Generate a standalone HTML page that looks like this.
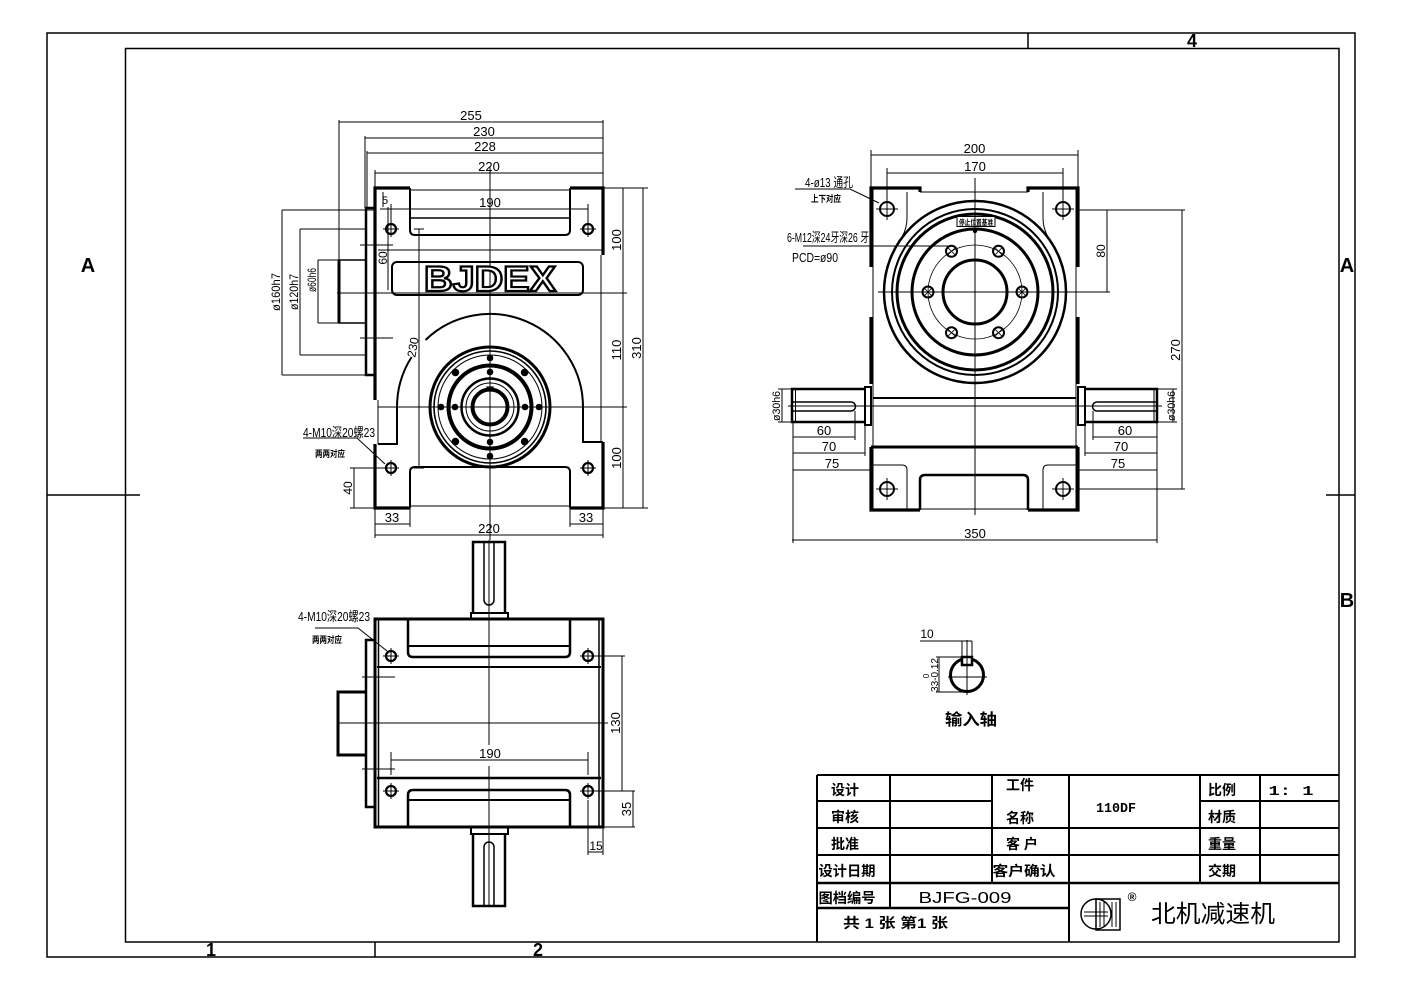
<!DOCTYPE html>
<html><head><meta charset="utf-8">
<style>
html,body{margin:0;padding:0;background:#fff;}
svg{display:block}
text{font-family:"Liberation Sans","Noto Sans CJK SC",sans-serif;fill:#000;stroke:none}
.b{font-weight:bold}
</style></head><body>
<svg width="1403" height="992" viewBox="0 0 1403 992" xmlns="http://www.w3.org/2000/svg">
<rect width="1403" height="992" fill="#fff"/>
<defs>
<g id="hole"><circle r="5" fill="none" stroke="#000" stroke-width="2.2"/><path d="M-8 0H8M0 -8V8" stroke="#000" stroke-width="1"/></g>
<g id="hole7"><circle r="7" fill="none" stroke="#000" stroke-width="2"/><path d="M-11 0H11M0 -11V11" stroke="#000" stroke-width="1"/></g>
<g id="hole6"><circle r="5.5" fill="none" stroke="#000" stroke-width="2"/><path d="M-4 -4L4 4M-4 4L4 -4" stroke="#000" stroke-width="0.8"/></g>
</defs>

<!-- BORDER -->
<g fill="none" stroke="#000" stroke-width="1.5">
<rect x="47" y="33" width="1308" height="924"/>
<rect x="125.5" y="48.5" width="1213.5" height="893.5"/>
<path d="M1028 33V48 M375 942V957 M47 495H140 M1326 495H1355"/>
</g>
<text x="1192" y="47" font-size="18" class="b" text-anchor="middle">4</text>
<text x="211" y="956" font-size="18" class="b" text-anchor="middle">1</text>
<text x="538" y="956" font-size="18" class="b" text-anchor="middle">2</text>
<text x="88" y="272" font-size="20" class="b" text-anchor="middle">A</text>
<text x="1347" y="272" font-size="20" class="b" text-anchor="middle">A</text>
<text x="1347" y="607" font-size="20" class="b" text-anchor="middle">B</text>

<!-- FRONT VIEW -->
<g fill="none" stroke="#000" stroke-width="1">
<path d="M375 400V188H410 M570 188H603V255 M603 442V508H570 M410 508H375V444" stroke-width="3.2"/>
<path d="M378 400V444 M601 255V442 M410 190H570 M378 250H603 M410 506H570"/>
<path d="M410 188V230Q410 235 415 235H565Q570 235 570 230V188" stroke-width="2"/>
<path d="M410 218H570" stroke-width="1.5"/>
<path d="M410 508V472Q410 467 415 467H565Q570 467 570 472V508" stroke-width="2"/>
<path d="M375 208H366V375H375" stroke-width="2.5"/>
<path d="M366 260H339V323H366" stroke-width="1.5"/>
<path d="M339 260V323" stroke-width="3"/>
<path d="M360 245H393 M360 338H393"/>
<rect x="392" y="262" width="191" height="33" rx="5" stroke-width="2"/>
<path d="M378 444H397V407A93 93 0 0 1 411.6 357 M425.5 340A93 93 0 0 1 583 407V442H603" stroke-width="2"/>
<circle cx="490" cy="407" r="60" stroke-width="3"/>
<circle cx="490" cy="407" r="56" stroke-width="1.6"/>
<circle cx="490" cy="407" r="52" stroke-width="1"/>
<circle cx="490" cy="407" r="41.5" stroke-width="4"/>
<circle cx="490" cy="407" r="28.5" stroke-width="2.5"/>
<circle cx="490" cy="407" r="24" stroke-width="1"/>
<circle cx="490" cy="407" r="17.5" stroke-width="4"/>
<rect x="487" y="387" width="6" height="4" stroke-width="1.2"/>
<path d="M490 167V540 M337 293H627 M378 407H627"/>
<!-- dims -->
<path d="M339 260V120 M365 208V136 M367 208V151 M375 188V170 M603 188V120"/>
<path d="M339 122H603 M365 138H603 M367 153H603 M375 173H603"/>
<path d="M603 188H648 M603 508H648 M623 188V508 M643 188V508"/>
<path d="M282 210H375 M282 375H375 M282 210V375 M300 229H366 M300 355H366 M300 229V355 M318 260H339 M318 323H339 M318 260V323"/>
<path d="M380 209H588 M391 204V229 M588 204V229 M383 192V207 M388 207V290"/>
<path d="M419 229V468 M414 229H424 M414 468H424"/>
<path d="M303 438H357L385 464"/>
<path d="M354 468V508 M350 468H391 M350 508H375"/>
<path d="M375 508V538 M603 508V538 M410 508V527 M570 508V527 M375 524H410 M570 524H603 M375 535H603"/>
</g>
<g fill="#000">
<circle cx="539" cy="407" r="3.3"/><circle cx="524.6" cy="441.6" r="3.8"/><circle cx="490" cy="456" r="3.3"/><circle cx="455.4" cy="441.6" r="3.8"/>
<circle cx="441" cy="407" r="3.3"/><circle cx="455.4" cy="372.4" r="3.8"/><circle cx="490" cy="358" r="3.3"/><circle cx="524.6" cy="372.4" r="3.8"/>
<circle cx="525" cy="407" r="3.3"/><circle cx="490" cy="442" r="3.3"/><circle cx="455" cy="407" r="3.3"/><circle cx="490" cy="372" r="3.3"/>
</g>
<use href="#hole" x="391" y="229"/><use href="#hole" x="588" y="229"/><use href="#hole" x="391" y="468"/><use href="#hole" x="588" y="468"/>
<text x="490" y="291" font-size="35" class="b" text-anchor="middle" textLength="132" lengthAdjust="spacingAndGlyphs" style="fill:#fff;stroke:#000;stroke-width:2.2">BJDEX</text>
<g font-size="13" text-anchor="middle">
<text x="471" y="120">255</text>
<text x="484" y="136">230</text>
<text x="485" y="151">228</text>
<text x="489" y="171">220</text>
<text x="490" y="207">190</text>
<text x="385" y="204" font-size="11">5</text>
<text x="392" y="522">33</text>
<text x="586" y="522">33</text>
<text x="489" y="533">220</text>
<text transform="translate(621,240) rotate(-90)">100</text>
<text transform="translate(621,350) rotate(-90)">110</text>
<text transform="translate(621,458) rotate(-90)">100</text>
<text transform="translate(641,348) rotate(-90)">310</text>
<text transform="translate(280,292) rotate(-90)" font-size="12" textLength="38" lengthAdjust="spacingAndGlyphs">ø160h7</text>
<text transform="translate(298,292) rotate(-90)" font-size="12" textLength="36" lengthAdjust="spacingAndGlyphs">ø120h7</text>
<text transform="translate(316,280) rotate(-90)" font-size="12" textLength="24" lengthAdjust="spacingAndGlyphs">ø60h6</text>
<text transform="translate(387,258) rotate(-90)" font-size="12">60</text>
<text transform="translate(417,348) rotate(-80)" font-size="12">230</text>
<text transform="translate(352,488) rotate(-90)" font-size="12">40</text>
</g>
<text x="303" y="437" font-size="13" textLength="72" lengthAdjust="spacingAndGlyphs">4-M10深20螺23</text>
<text x="315" y="457" font-size="9" class="b" textLength="30" lengthAdjust="spacingAndGlyphs">两两对应</text>

<!-- TOP VIEW (right) -->
<g fill="none" stroke="#000" stroke-width="1">
<path d="M871 267V188H920V192 M1028 192V188H1078V267 M871 317V384 M1078 317V384 M871 447V510H920 M1028 510H1078V447" stroke-width="3.2"/>
<path d="M873 188V510 M1076 188V510 M920 192H1028 M920 509H1028"/>
<path d="M873 398H1076" stroke-width="2"/>
<path d="M871 447H1078" stroke-width="3"/>
<path d="M907 192V218Q907 228 902 237 M1043 192V218Q1043 228 1048 237"/>
<path d="M920 510V480Q920 475 925 475H1023Q1028 475 1028 480V510" stroke-width="2.5"/>
<path d="M873 465H902Q907 465 907 470V510 M1076 465H1048Q1043 465 1043 470V510"/>
<rect x="865" y="387" width="6" height="38" stroke-width="2"/>
<path d="M865 389H792V422H865" stroke-width="2.5"/>
<path d="M795.5 389V422"/>
<path d="M793 402H851A4.5 4.5 0 0 1 851 411H793" stroke-width="1.5"/>
<rect x="1078" y="387" width="7" height="38" stroke-width="2"/>
<path d="M1085 389H1157V422H1085" stroke-width="2.5"/>
<path d="M1154 389V422"/>
<path d="M1157 402H1097A4.5 4.5 0 0 0 1097 411H1157" stroke-width="1.5"/>
<circle cx="975" cy="292" r="91" stroke-width="2.5"/>
<circle cx="975" cy="292" r="83" stroke-width="2"/>
<circle cx="975" cy="292" r="78" stroke-width="3"/>
<circle cx="975" cy="292" r="63" stroke-width="3"/>
<circle cx="975" cy="292" r="47" stroke-width="0.8"/>
<circle cx="975" cy="292" r="32" stroke-width="3"/>
<rect x="957" y="216.5" width="38" height="10" fill="#fff" stroke-width="1"/>
<path d="M975 178V515 M878 292H1110 M788 406H1162"/>
<!-- dims -->
<path d="M871 150V188 M1078 150V188 M871 155H1078 M887 168V209 M1063 168V209 M887 173H1063"/>
<path d="M795 189H850L879 203 M803 246H948"/>
<path d="M1078 210H1185 M1107 210V292 M1078 489H1185 M1182 210V489"/>
<path d="M778 389H792 M778 422H792 M782 389V422 M1157 389H1177 M1157 422H1177 M1173 389V422"/>
<path d="M793 422V543 M1157 422V543 M855 411V440 M865 425V456 M870 447V473 M1093 411V440 M1085 425V456 M1078 447V473"/>
<path d="M793 437H855 M793 453H865 M793 470H870 M1093 437H1157 M1085 453H1157 M1078 470H1157 M792 540H1157"/>
</g>
<circle cx="975" cy="231" r="2.2" fill="#000"/>
<text x="976" y="225" font-size="7.5" class="b" text-anchor="middle" textLength="34" lengthAdjust="spacingAndGlyphs">停止位置基准</text>
<use href="#hole7" x="887" y="209"/><use href="#hole7" x="1063" y="209"/><use href="#hole7" x="887" y="489"/><use href="#hole7" x="1063" y="489"/>
<use href="#hole6" x="1022" y="292"/><use href="#hole6" x="928" y="292"/><use href="#hole6" x="998.5" y="251.3"/><use href="#hole6" x="951.5" y="251.3"/><use href="#hole6" x="998.5" y="332.7"/><use href="#hole6" x="951.5" y="332.7"/>
<g font-size="13" text-anchor="middle">
<text x="974.5" y="153">200</text>
<text x="975" y="171">170</text>
<text x="824" y="435">60</text>
<text x="829" y="451">70</text>
<text x="832" y="468">75</text>
<text x="1125" y="435">60</text>
<text x="1121" y="451">70</text>
<text x="1118" y="468">75</text>
<text x="975" y="538">350</text>
<text transform="translate(1105,251) rotate(-90)" font-size="12">80</text>
<text transform="translate(1180,350) rotate(-90)">270</text>
<text transform="translate(780,406) rotate(-90)" font-size="11" textLength="30" lengthAdjust="spacingAndGlyphs">ø30h6</text>
<text transform="translate(1175,406) rotate(-90)" font-size="11" textLength="30" lengthAdjust="spacingAndGlyphs">ø30h6</text>
</g>
<text x="805" y="187" font-size="13" textLength="48" lengthAdjust="spacingAndGlyphs">4-ø13 通孔</text>
<text x="811" y="202" font-size="9" class="b" textLength="30" lengthAdjust="spacingAndGlyphs">上下对应</text>
<text x="787" y="242" font-size="13" textLength="82" lengthAdjust="spacingAndGlyphs">6-M12深24牙深26 牙</text>
<text x="792" y="262" font-size="13" textLength="46" lengthAdjust="spacingAndGlyphs">PCD=ø90</text>

<!-- BOTTOM VIEW -->
<g fill="none" stroke="#000" stroke-width="1">
<path d="M473 613V542H505V613" stroke-width="2.5"/>
<path d="M484 543V600A5 5 0 0 0 494 600V543" stroke-width="1.5"/>
<rect x="471" y="613" width="37" height="6" stroke-width="2"/>
<rect x="375" y="619" width="228" height="208" stroke-width="3"/>
<path d="M378.5 619V827 M599 619V827" stroke-width="1.5"/>
<path d="M377 667H601" stroke-width="2"/>
<path d="M408 619V652Q408 657 413 657H565Q570 657 570 652V619" stroke-width="2.5"/>
<path d="M408 646H570" stroke-width="2"/>
<path d="M377 778H601" stroke-width="2.5"/>
<path d="M408 827V795Q408 790 413 790H565Q570 790 570 795V827" stroke-width="2.5"/>
<path d="M408 800H570" stroke-width="2"/>
<path d="M375 640H366V807H375" stroke-width="2.5"/>
<path d="M366 692H338V755H366" stroke-width="3"/>
<path d="M362 677H395 M362 769H395 M337 723H608 M489 540V745 M489 766V907"/>
<rect x="471" y="827" width="37" height="7" stroke-width="2"/>
<path d="M473 834V906H505V834" stroke-width="2.5"/>
<path d="M484 905V847A5 5 0 0 1 494 847V905" stroke-width="1.5"/>
<!-- dims -->
<path d="M588 656H625 M588 791H635 M622 656V791 M603 827H635 M633 791V827"/>
<path d="M588 800V855 M603 827V855 M588 852H603"/>
<path d="M391 752V775 M588 752V775 M391 760H588"/>
<path d="M315 628H358L387 651"/>
</g>
<use href="#hole" x="391" y="656"/><use href="#hole" x="588" y="656"/><use href="#hole" x="391" y="791"/><use href="#hole" x="588" y="791"/>
<g font-size="13" text-anchor="middle">
<text transform="translate(620,723) rotate(-90)">130</text>
<text transform="translate(631,809) rotate(-90)">35</text>
<text x="596" y="850" font-size="12">15</text>
<text x="490" y="758">190</text>
</g>
<text x="298" y="621" font-size="13" textLength="72" lengthAdjust="spacingAndGlyphs">4-M10深20螺23</text>
<text x="312" y="643" font-size="9" class="b" textLength="30" lengthAdjust="spacingAndGlyphs">两两对应</text>

<!-- KEY DETAIL -->
<g fill="none" stroke="#000" stroke-width="1">
<circle cx="967" cy="675" r="16.5" stroke-width="3"/>
<rect x="962" y="657" width="10" height="8" fill="#fff" stroke-width="2.5"/>
<path d="M962 641V657 M972 641V657 M920 641H972 M939 657V692 M936 657H962 M936 692H967 M948 677H987 M967 640V695"/>
</g>
<text x="927" y="638" font-size="12" text-anchor="middle">10</text>
<text transform="translate(938,675) rotate(-90)" font-size="10" text-anchor="middle" textLength="34" lengthAdjust="spacingAndGlyphs">33-0.12</text>
<text transform="translate(929,676) rotate(-90)" font-size="8" text-anchor="middle">0</text>
<text x="971" y="725" font-size="16" class="b" text-anchor="middle" textLength="52" lengthAdjust="spacingAndGlyphs">输入轴</text>

<!-- TITLE BLOCK -->
<g fill="none" stroke="#000" stroke-width="2">
<path d="M817 775H1339 M817 942V775 M817 801H992 M1200 801H1339 M817 828H1339 M817 855H1339"/>
<path d="M817 883H1339 M817 908H1069" stroke-width="2.5"/>
<path d="M890 775V908 M992 775V883 M1069 775V942 M1200 775V883 M1260 775V883"/>
<!-- logo -->
<circle cx="1096" cy="914" r="15" stroke-width="1.5"/>
<rect x="1096" y="899" width="24" height="31" stroke-width="1.5"/>
<path d="M1084 912H1108 M1084 916H1108 M1100 902V927 M1104 902V927 M1112 902V927 M1116 902V927" stroke-width="1"/>
</g>
<g font-size="14" class="b" text-anchor="middle">
<text x="845" y="795">设计</text>
<text x="845" y="822">审核</text>
<text x="845" y="849">批准</text>
<text x="847" y="876" textLength="57" lengthAdjust="spacingAndGlyphs">设计日期</text>
<text x="847" y="903" textLength="57" lengthAdjust="spacingAndGlyphs">图档编号</text>
<text x="1020" y="790">工件</text>
<text x="1020" y="823">名称</text>
<text x="1022" y="849">客 户</text>
<text x="1024" y="876" textLength="63" lengthAdjust="spacingAndGlyphs">客户确认</text>
<text x="1222" y="795">比例</text>
<text x="1222" y="822">材质</text>
<text x="1222" y="849">重量</text>
<text x="1222" y="876">交期</text>
<text x="1116" y="812" style="font-family:'Liberation Mono',monospace" textLength="40" lengthAdjust="spacingAndGlyphs">110DF</text>
<text x="1291" y="795" style="font-family:'Liberation Mono',monospace" textLength="45" lengthAdjust="spacingAndGlyphs">1: 1</text>
</g>
<text x="965" y="903" font-size="16" text-anchor="middle" textLength="93" lengthAdjust="spacingAndGlyphs">BJFG-009</text>
<text x="843" y="928" font-size="14" class="b" textLength="105" lengthAdjust="spacingAndGlyphs">共 1 张 第1 张</text>
<text x="1132" y="901" font-size="12" class="b" text-anchor="middle">®</text>
<text x="1151" y="922" font-size="24" textLength="124" lengthAdjust="spacingAndGlyphs">北机减速机</text>
</svg>
</body></html>
